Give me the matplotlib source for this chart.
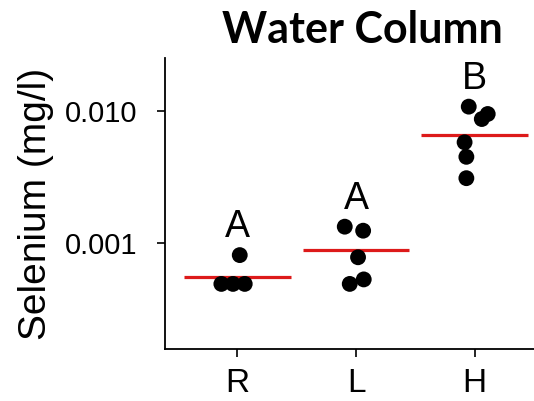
import numpy as np
import matplotlib
matplotlib.use("Agg")
import matplotlib.pyplot as plt

# selenium in the water column, mg/l, per site
sites = ["R", "L", "H"]
selenium = {
    "R": [0.00081, 0.00049, 0.00049, 0.00049],
    "L": [0.00133, 0.00124, 0.00078, 0.00049, 0.00053],
    "H": [0.0108, 0.0095, 0.0087, 0.0058, 0.0045, 0.0031],
}
# horizontal jitter of each point (category units)
jitter = {
    "R": [0.02, -0.135, -0.037, 0.062],
    "L": [-0.095, 0.06, 0.017, -0.053, 0.065],
    "H": [-0.05, 0.11, 0.06, -0.085, -0.07, -0.07],
}
# group summary lines
summary = [0.00055, 0.000885, 0.00658]
letters = ["A", "A", "B"]

plt.rcParams["font.family"] = ["Liberation Sans", "DejaVu Sans"]

fig = plt.figure(figsize=(5.34, 4.01), dpi=100)
ax = fig.add_axes([165 / 534, 1 - 349 / 401, 369 / 534, (349 - 58) / 401])

for i, s in enumerate(sites):
    x = i + 1 + np.array(jitter[s])
    ax.scatter(x, selenium[s], s=130, color="black", edgecolors="none", zorder=3)
    ax.hlines(summary[i], i + 1 - 0.45, i + 1 + 0.45, color="#dd1a1a", lw=2.3, zorder=2)
    ax.text(i + 1, max(selenium[s]) * 1.37, letters[i], ha="center", va="baseline",
            fontsize=27)

ax.set_yscale("log")
ax.set_ylim(10 ** -3.803, 10 ** -1.598)
ax.set_xlim(0.39, 3.5)
ax.set_yticks([0.001, 0.01])
ax.set_yticklabels(["0.001", "0.010"])
ax.yaxis.set_minor_locator(matplotlib.ticker.NullLocator())
ax.set_xticks([1, 2, 3])
ax.set_xticklabels(sites)
ax.tick_params(axis="y", labelsize=21, length=6, width=1.2, pad=14)
ax.tick_params(axis="x", labelsize=24, length=6, width=1.2, pad=8)
for side in ["top", "right"]:
    ax.spines[side].set_visible(False)
for side in ["left", "bottom"]:
    ax.spines[side].set_linewidth(1.3)

fig.text(36 / 534, 1 - 203.5 / 401, "Selenium (mg/l)", rotation=90,
         ha="center", va="center", fontsize=28)
fig.text(362 / 534, 1 - 43 / 401, "Water Column", ha="center", va="baseline",
         fontsize=31, fontweight="bold", family=["Lato", "DejaVu Sans"])

fig.savefig("out.png", dpi=100)
